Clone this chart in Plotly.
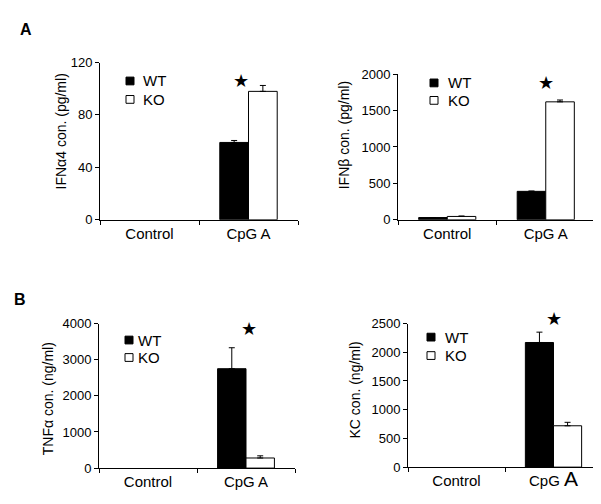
import plotly.graph_objects as go

W, H = 601, 504

categories = ["Control", "CpG A"]

ifna4_wt = [None, 59]
ifna4_wt_err = [0, 1.5]
ifna4_ko = [None, 98]
ifna4_ko_err = [0, 4.5]

ifnb_wt = [30, 390]
ifnb_wt_err = [0, 4]
ifnb_ko = [45, 1620]
ifnb_ko_err = [6, 25]

tnfa_wt = [None, 2750]
tnfa_wt_err = [0, 580]
tnfa_ko = [None, 280]
tnfa_ko_err = [0, 60]

kc_wt = [None, 2170]
kc_wt_err = [0, 180]
kc_ko = [None, 720]
kc_ko_err = [0, 60]

FONT = "Liberation Sans, Arial, sans-serif"

def px(x):
    return x / W

def py(y):
    return 1 - y / H

panels = [
    dict(wt=ifna4_wt, wte=ifna4_wt_err, ko=ifna4_ko, koe=ifna4_ko_err,
         xd=(92, 290), yd=(49, 211), rng=[0, 120], dt=40,
         title="IFNα4 con. (pg/ml)", tpos=(53, 120),
         leg=(122, 68, 87, 133), star_shift=-8, star_y=67),
    dict(wt=ifnb_wt, wte=ifnb_wt_err, ko=ifnb_ko, koe=ifnb_ko_err,
         xd=(390, 587), yd=(61, 211), rng=[0, 2000], dt=500,
         title="IFNβ con. (pg/ml)", tpos=(336, 124),
         leg=(426, 70, 88, 438), star_shift=0, star_y=70),
    dict(wt=tnfa_wt, wte=tnfa_wt_err, ko=tnfa_ko, koe=tnfa_ko_err,
         xd=(91, 287), yd=(318, 467), rng=[0, 4000], dt=1000,
         title="TNFα con. (ng/ml)", tpos=(40, 396),
         leg=(121, 335, 353, 128), star_shift=3, star_y=323),
    dict(wt=kc_wt, wte=kc_wt_err, ko=kc_ko, koe=kc_ko_err,
         xd=(400, 594), yd=(318, 466), rng=[0, 2500], dt=500,
         title="KC con. (ng/ml)", tpos=(347, 387),
         leg=(423, 332, 351, 435), star_shift=0, star_y=313),
]

fig = go.Figure()
shapes = []
annotations = []

for i, p in enumerate(panels):
    n = "" if i == 0 else str(i + 1)
    xa, ya = "x" + n, "y" + n
    for vals, errs, color, name in [(p["wt"], p["wte"], "black", "WT"),
                                    (p["ko"], p["koe"], "white", "KO")]:
        fig.add_trace(go.Bar(
            x=categories, y=vals, name=name, xaxis=xa, yaxis=ya,
            marker=dict(color=color, line=dict(color="black", width=1)),
            error_y=dict(type="data", symmetric=False, array=errs,
                         arrayminus=[0] * len(errs), color="black",
                         thickness=1, width=3),
            showlegend=False,
        ))
    ticktext = categories if i < 3 else ["Control", "CpG <span style='font-size:21px'>A</span>"]
    fig.update_layout(**{
        "xaxis" + n: dict(domain=[px(p["xd"][0]), px(p["xd"][1])], anchor=ya,
                          showline=True, linecolor="black", linewidth=1,
                          ticks="outside", tickson="boundaries", ticklen=4,
                          tickcolor="black", showgrid=False,
                          tickvals=categories, ticktext=ticktext,
                          tickfont=dict(family=FONT, size=15, color="black"),
                          ticklabelstandoff=0, fixedrange=True),
        "yaxis" + n: dict(domain=[py(p["yd"][1]), py(p["yd"][0])], anchor=xa,
                          range=p["rng"], dtick=p["dt"],
                          showline=True, linecolor="black", linewidth=1,
                          ticks="outside", ticklen=4, tickcolor="black",
                          showgrid=False, zeroline=False,
                          tickfont=dict(family=FONT, size=13, color="black"),
                          fixedrange=True),
    })
    # y-axis title
    annotations.append(dict(text=p["title"], x=px(p["tpos"][0]), y=py(p["tpos"][1]),
                            xref="paper", yref="paper", textangle=-90,
                            showarrow=False, xanchor="center", yanchor="middle",
                            font=dict(family=FONT, size=14, color="black")))
    # legend
    lx, ly1, ly2, tx = p["leg"]
    s = 4
    for yy, fill, lab in [(ly1, "black", "WT"), (ly2, "white", "KO")]:
        shapes.append(dict(type="rect", xref="paper", yref="paper",
                           x0=px(lx - s), x1=px(lx + s), y0=py(yy + s), y1=py(yy - s),
                           fillcolor=fill, line=dict(color="black", width=1)))
        annotations.append(dict(text=lab, x=px(tx), y=py(yy), xref="paper", yref="paper",
                                showarrow=False, xanchor="left", yanchor="middle",
                                font=dict(family=FONT, size=15, color="black")))
    # significance star
    annotations.append(dict(text="★", x="CpG A", xref=xa, y=py(p["star_y"]), yref="paper",
                            xshift=p["star_shift"], showarrow=False,
                            xanchor="center", yanchor="middle",
                            font=dict(family="DejaVu Sans", size=18, color="black")))

annotations.append(dict(text="<b>A</b>", x=px(18), y=py(15), xref="paper", yref="paper",
                        showarrow=False, xanchor="center", yanchor="middle",
                        font=dict(family=FONT, size=16, color="black")))
annotations.append(dict(text="<b>B</b>", x=px(12), y=py(293), xref="paper", yref="paper",
                        showarrow=False, xanchor="center", yanchor="middle",
                        font=dict(family=FONT, size=16, color="black")))

fig.update_layout(
    width=W, height=H,
    margin=dict(l=0, r=0, t=0, b=0),
    paper_bgcolor="white", plot_bgcolor="white",
    barmode="group", bargap=0.42, bargroupgap=0,
    shapes=shapes, annotations=annotations,
    showlegend=False,
)

fig.write_html("out.html")
